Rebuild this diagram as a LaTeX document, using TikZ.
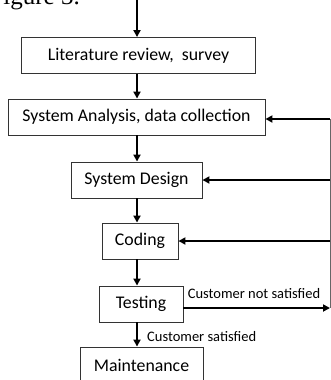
\documentclass[tikz,border=0pt]{standalone}
\usepackage{fontspec}
\setmainfont{Carlito}
\newfontfamily\capfont{Liberation Serif}
\usetikzlibrary{arrows.meta, positioning, calc}

\begin{document}
\begin{tikzpicture}[x=1pt, y=-1pt,
    stage/.style={draw=black!80, line width=0.9pt, minimum height=36pt, inner sep=2pt,
                  font=\fontsize{17.8}{20}\selectfont},
    flow/.style={-{Triangle[length=7pt,width=7pt]}, line width=1.8pt},
    note/.style={inner sep=0pt, font=\fontsize{14.5}{17}\selectfont}]
  \useasboundingbox (0,0) rectangle (331,380);
  \clip (0,0) rectangle (331,380);

  % caption left over from the page above
  \node[anchor=base east, inner sep=0pt, font=\capfont\fontsize{25}{28}\selectfont] (cap) at (80,5) {Figure 3.};

  % the stages
  \node[stage, minimum width=234pt] (lit) at (138.5,55.5) {Literature review,~~survey};
  \node[stage, minimum width=257pt] (sa) at (136.5,117) {System Analysis, data collection};
  \node[stage, minimum width=131pt] (sd) at (136.5,180) {System Design};
  \node[stage, minimum width=76pt] (cod) at (140,241) {Coding};
  \node[stage, minimum width=84pt] (test) at (141,304) {Testing};
  \node[stage, minimum width=123pt] (maint) at (141.5,365) {Maintenance};

  % main line down the middle
  \coordinate (top) at (137,0);
  \coordinate (fb) at (330,0);
  \draw[flow] (top) -- (top |- lit.north);
  \foreach \a/\b in {lit/sa, sa/sd, sd/cod, cod/test, test/maint}
    \draw[flow] (\a.south -| top) -- (\b.north -| top);

  % going back when the customer is not happy
  \draw[black!60, line width=0.8pt] ([yshift=-2pt]sa.east -| fb) -- ([yshift=-4pt]test.east -| fb);
  \foreach \n/\dy in {sa/-2, sd/0, cod/0}
    \draw[flow] ([yshift=\dy pt]\n.east -| fb) -- ([yshift=\dy pt]\n.east);
  \draw[flow] ([yshift=-4pt]test.east) -- ([yshift=-4pt]test.east -| fb);

  \node[note] (nsat) at (254,294) {Customer not satisfied};
  \node[note, anchor=west] (sat) at (147,337) {Customer satisfied};
\end{tikzpicture}
\end{document}
